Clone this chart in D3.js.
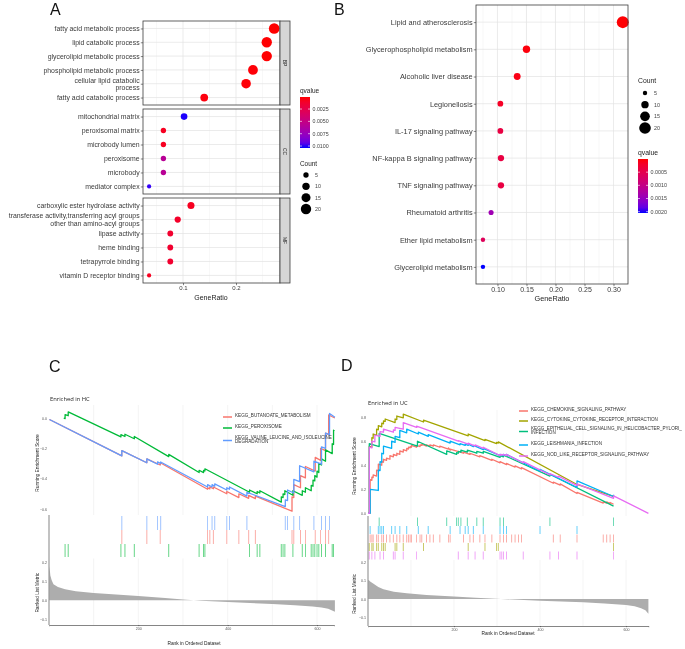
<!DOCTYPE html>
<html><head><meta charset="utf-8">
<script src="https://cdn.jsdelivr.net/npm/d3@7"></script>
<style>body{margin:0;background:#fff} svg{will-change:transform}</style>
</head><body>
<script>
// ---------------- Panel A data ----------------
const aBPTerms = ["fatty acid metabolic process","lipid catabolic process","glycerolipid metabolic process","phospholipid metabolic process","cellular lipid catabolic\nprocess","fatty acid catabolic process"];
const aBPRatio = [0.272,0.258,0.258,0.232,0.219,0.140];
const aBPCount = [21,20,20,18,17,11];
const aBPQ = [0.00005,0.0001,0.0001,0.0002,0.0002,0.0003];
const aCCTerms = ["mitochondrial matrix","peroxisomal matrix","microbody lumen","peroxisome","microbody","mediator complex"];
const aCCRatio = [0.102,0.063,0.063,0.063,0.063,0.036];
const aCCCount = [8,5,5,5,5,3];
const aCCQ = [0.0103,0.0008,0.0008,0.0058,0.0058,0.0101];
const aMFTerms = ["carboxylic ester hydrolase activity","transferase activity,transferring acyl groups\nother than amino-acyl groups","lipase activity","heme binding","tetrapyrrole binding","vitamin D receptor binding"];
const aMFRatio = [0.115,0.090,0.076,0.076,0.076,0.036];
const aMFCount = [9,7,6,6,6,3];
const aMFQ = [0.0008,0.0011,0.0013,0.0013,0.0013,0.0008];
const aStrips = ["BP","CC","MF"];
const aXTicks = [0.1,0.2];
const aQTicks = [0.0025,0.0050,0.0075,0.0100];
const sizeTicks = [5,10,15,20];

// ---------------- Panel B data ----------------
const bTerms = ["Lipid and atherosclerosis","Glycerophospholipid metabolism","Alcoholic liver disease","Legionellosis","IL-17 signaling pathway","NF-kappa B signaling pathway","TNF signaling pathway","Rheumatoid arthritis","Ether lipid metabolism","Glycerolipid metabolism"];
const bRatio = [0.316,0.150,0.134,0.105,0.105,0.106,0.106,0.089,0.075,0.075];
const bCount = [21,10,9,7,7,8,8,6,5,5];
const bQ = [0.00001,0.00004,0.00008,0.00018,0.0004,0.0004,0.0004,0.0014,0.0006,0.00205];
const bXTicks = [0.10,0.15,0.20,0.25,0.30];
const bQTicks = [0.0005,0.0010,0.0015,0.0020];

// ---------------- Panel C data ----------------
const cNames = ["KEGG_BUTANOATE_METABOLISM","KEGG_PEROXISOME","KEGG_VALINE_LEUCINE_AND_ISOLEUCINE\nDEGRADATION"];
const cColors = ["#F8766D","#00BA38","#619CFF"];
const cButanoateES = [[1,-0.01],[163,-0.25],[163,-0.215],[219,-0.295],[219,-0.27],[249,-0.31],[249,-0.295],[355,-0.47],[355,-0.46],[360,-0.468],[360,-0.455],[368,-0.467],[368,-0.455],[398,-0.5],[398,-0.485],[425,-0.525],[425,-0.5],[447,-0.53],[447,-0.51],[462,-0.532],[462,-0.515],[544,-0.615],[544,-0.52],[548,-0.525],[548,-0.44],[563,-0.46],[563,-0.38],[574,-0.395],[574,-0.32],[596,-0.35],[596,-0.26],[608,-0.28],[608,-0.2],[619,-0.215],[619,-0.1],[626,-0.11],[626,0.02],[640,0.0]];
const cPeroxisomeES = [[33,0.0],[36,-0.004],[36,0.022],[43,0.015],[43,0.04],[161,-0.125],[161,-0.11],[170,-0.122],[170,-0.107],[191,-0.137],[191,-0.122],[268,-0.255],[268,-0.24],[336,-0.36],[336,-0.345],[346,-0.36],[346,-0.345],[349,-0.35],[349,-0.335],[449,-0.49],[449,-0.475],[466,-0.5],[466,-0.485],[472,-0.495],[472,-0.48],[520,-0.555],[520,-0.52],[524,-0.525],[524,-0.5],[528,-0.505],[528,-0.48],[546,-0.51],[546,-0.48],[567,-0.51],[567,-0.48],[574,-0.49],[574,-0.46],[587,-0.48],[587,-0.445],[591,-0.45],[591,-0.41],[595,-0.415],[595,-0.38],[600,-0.39],[600,-0.35],[604,-0.36],[604,-0.3],[610,-0.31],[610,-0.27],[619,-0.285],[619,-0.21],[634,-0.235],[634,-0.17],[637,-0.175],[637,-0.08],[639,-0.085]];
const cValineES = [[1,-0.01],[163,-0.25],[163,-0.215],[219,-0.295],[219,-0.27],[243,-0.305],[243,-0.29],[250,-0.3],[250,-0.29],[355,-0.455],[355,-0.44],[365,-0.455],[365,-0.44],[371,-0.45],[371,-0.435],[398,-0.475],[398,-0.46],[404,-0.47],[404,-0.455],[443,-0.515],[443,-0.49],[529,-0.585],[529,-0.54],[534,-0.545],[534,-0.475],[548,-0.495],[548,-0.405],[561,-0.42],[561,-0.315],[593,-0.355],[593,-0.285],[610,-0.305],[610,-0.19],[619,-0.2],[619,-0.1],[628,-0.11],[628,0.03],[640,0.005]];
const cButanoateHits = [163,219,249,355,360,368,398,425,447,462,544,548,563,574,596,608,619,626];
const cPeroxisomeHits = [36,43,161,170,191,268,336,346,349,449,466,472,520,524,528,546,567,574,587,591,595,600,604,610,619,634,637];
const cValineHits = [163,219,243,250,355,365,371,398,404,443,529,534,548,561,593,610,619,628];
const cMetricRank = [1,3,6,10,20,36,60,100,150,200,260,300,340,400,450,500,550,590,610,625,640];
const cMetricValue = [0.18,0.13,0.105,0.085,0.07,0.058,0.048,0.038,0.03,0.022,0.012,0.004,-0.003,-0.009,-0.014,-0.019,-0.026,-0.033,-0.038,-0.045,-0.06];
const cESTicks = [0,-0.2,-0.4,-0.6];
const cRankTicks = [200,400,600];
const cMetricTicks = [0.2,0.1,0.0,-0.1];

// ---------------- Panel D data ----------------
const dNames = ["KEGG_CHEMOKINE_SIGNALING_PATHWAY","KEGG_CYTOKINE_CYTOKINE_RECEPTOR_INTERACTION","KEGG_EPITHELIAL_CELL_SIGNALING_IN_HELICOBACTER_PYLORI_\nINFECTION","KEGG_LEISHMANIA_INFECTION","KEGG_NOD_LIKE_RECEPTOR_SIGNALING_PATHWAY"];
const dColors = ["#F8766D","#A3A500","#00BF7D","#00B0F6","#E76BF3"];
const dChemokineES = [[0,0],[5,0],[5,0.28],[9,0.275],[9,0.3],[12,0.298],[12,0.32],[20,0.31],[20,0.36],[24,0.355],[24,0.41],[32,0.4],[32,0.43],[36,0.425],[36,0.45],[43,0.44],[43,0.46],[51,0.45],[51,0.48],[59,0.47],[59,0.49],[67,0.48],[67,0.5],[74,0.49],[74,0.52],[82,0.51],[82,0.53],[90,0.52],[90,0.54],[94,0.535],[94,0.55],[98,0.545],[98,0.555],[101,0.55],[101,0.565],[113,0.55],[113,0.565],[121,0.555],[121,0.57],[125,0.565],[125,0.575],[136,0.56],[136,0.57],[144,0.56],[144,0.57],[152,0.56],[152,0.57],[167,0.55],[167,0.56],[187,0.535],[187,0.545],[191,0.525],[191,0.535],[222,0.5],[222,0.51],[237,0.49],[237,0.5],[260,0.47],[260,0.48],[288,0.44],[288,0.45],[307,0.42],[307,0.43],[322,0.405],[322,0.415],[342,0.385],[342,0.395],[357,0.37],[357,0.38],[431,0.25],[431,0.26],[447,0.235],[447,0.245],[486,0.165],[486,0.175],[547,0.085],[547,0.095],[555,0.085],[555,0.095],[563,0.08],[563,0.09],[571,0.075]];
const dCytokineES = [[0,0],[3,0],[3,0.56],[9,0.55],[9,0.63],[12,0.625],[12,0.66],[20,0.65],[20,0.7],[24,0.695],[24,0.73],[32,0.72],[32,0.75],[36,0.745],[36,0.77],[40,0.765],[40,0.785],[63,0.755],[63,0.785],[67,0.78],[67,0.81],[82,0.795],[82,0.825],[129,0.76],[129,0.775],[233,0.645],[233,0.66],[272,0.605],[272,0.615],[299,0.58],[299,0.59],[303,0.585],[303,0.595],[486,0.24],[571,0.14]];
const dEpithelialES = [[0,0],[3,0],[3,0.58],[26,0.555],[26,0.665],[115,0.56],[115,0.6],[183,0.49],[183,0.52],[206,0.49],[206,0.505],[210,0.5],[210,0.515],[216,0.51],[216,0.525],[231,0.51],[231,0.525],[253,0.5],[253,0.515],[268,0.5],[268,0.515],[307,0.465],[307,0.48],[315,0.47],[315,0.485],[423,0.31],[423,0.325],[571,0.06]];
const dLeishmaniaES = [[0,0],[5,0],[5,0.2],[24,0.19],[24,0.36],[28,0.355],[28,0.43],[32,0.425],[32,0.5],[36,0.495],[36,0.56],[55,0.54],[55,0.6],[63,0.59],[63,0.64],[74,0.63],[74,0.69],[90,0.67],[90,0.7],[117,0.66],[117,0.675],[140,0.64],[140,0.655],[191,0.585],[191,0.6],[214,0.57],[214,0.58],[226,0.565],[226,0.575],[233,0.565],[233,0.575],[245,0.555],[245,0.565],[268,0.53],[268,0.54],[307,0.48],[307,0.49],[315,0.48],[315,0.49],[322,0.48],[322,0.49],[400,0.35],[400,0.365],[486,0.215],[486,0.27],[571,0.14],[571,0.155]];
const dNodES = [[0,0],[3,0],[3,0.55],[9,0.545],[9,0.6],[16,0.595],[16,0.65],[28,0.64],[28,0.68],[36,0.675],[36,0.7],[59,0.675],[59,0.695],[63,0.69],[63,0.715],[82,0.7],[82,0.755],[113,0.715],[113,0.725],[210,0.6],[210,0.605],[233,0.575],[233,0.585],[249,0.56],[249,0.57],[268,0.54],[268,0.55],[307,0.48],[307,0.49],[311,0.485],[311,0.49],[315,0.485],[315,0.49],[322,0.48],[322,0.49],[361,0.42],[361,0.43],[423,0.32],[423,0.33],[443,0.3],[443,0.31],[486,0.23],[486,0.245],[571,0.125],[571,0.145],[652,0.0]];
const dChemokineHits = [5,9,12,20,24,32,36,43,51,59,67,74,82,90,94,98,101,113,121,125,136,144,152,167,187,191,222,237,245,260,272,288,307,315,322,334,342,350,357,431,447,486,547,555,563,571];
const dCytokineHits = [3,9,12,20,24,32,36,40,63,67,82,129,233,272,299,303,571];
const dEpithelialHits = [26,115,183,206,210,216,231,253,268,307,315,423,571];
const dLeishmaniaHits = [5,24,28,32,36,55,63,74,90,117,140,191,214,226,233,245,268,307,315,322,400,486];
const dNodHits = [3,9,16,28,36,59,63,82,113,210,233,249,268,307,311,315,322,361,423,443,486,571];
const dMetricRank = [1,5,12,24,36,60,90,136,200,250,298,350,400,450,500,550,600,620,635,645,652];
const dMetricValue = [0.105,0.095,0.085,0.065,0.053,0.04,0.031,0.022,0.013,0.007,0.001,-0.004,-0.009,-0.013,-0.018,-0.024,-0.033,-0.04,-0.05,-0.062,-0.08];
const dESTicks = [0.0,0.2,0.4,0.6,0.8];
const dRankTicks = [200,400,600];
const dMetricTicks = [0.2,0.1,0.0,-0.1];

// ================= drawing =================
const F = "'Liberation Sans', Arial, sans-serif";
const svg = d3.select("body").append("svg").attr("width",685).attr("height",649)
  .style("font-family",F);
svg.append("rect").attr("width",685).attr("height",649).attr("fill","#fff");
const defs = svg.append("defs");

[["A",50,15],["B",334,15],["C",49,372],["D",341,371]].forEach(([t,x,y])=>
  svg.append("text").attr("x",x).attr("y",y).attr("font-size",16).attr("fill","#111").text(t));

function styleAxis(ax, size, fill){
  ax.select(".domain").remove();
  ax.selectAll("line").attr("stroke","#333").attr("stroke-width",0.6);
  ax.selectAll("text").attr("font-size",size).attr("fill",fill).attr("font-family",F);
}
function multiline(ax){
  ax.selectAll(".tick text").each(function(d){
    const parts = String(d).split("\n");
    if(parts.length < 2) return;
    const t = d3.select(this); const x = t.attr("x");
    t.text(null).attr("dy",null);
    parts.forEach((p,i)=>t.append("tspan").attr("x",x).attr("dy", i===0 ? "-0.25em" : "1.15em").text(p));
  });
}

function dotPanel(o){
  const g = svg.append("g");
  const y = d3.scalePoint().domain(o.terms).range([o.y0,o.y1]).padding(o.pad);
  g.append("rect").attr("x",o.x0).attr("y",o.y0).attr("width",o.x1-o.x0).attr("height",o.y1-o.y0).attr("fill","#fff");
  g.selectAll(null).data(o.minors).join("line").attr("x1",d=>o.x(d)).attr("x2",d=>o.x(d))
    .attr("y1",o.y0).attr("y2",o.y1).attr("stroke","#f1f1f1").attr("stroke-width",0.5);
  g.selectAll(null).data(o.majors).join("line").attr("x1",d=>o.x(d)).attr("x2",d=>o.x(d))
    .attr("y1",o.y0).attr("y2",o.y1).attr("stroke","#e3e3e3").attr("stroke-width",0.7);
  g.selectAll(null).data(o.terms).join("line").attr("x1",o.x0).attr("x2",o.x1)
    .attr("y1",d=>y(d)).attr("y2",d=>y(d)).attr("stroke","#e3e3e3").attr("stroke-width",0.7);
  const pts = o.terms.map((t,i)=>({t, v:o.ratio[i], c:o.count[i], q:o.q[i]}));
  g.selectAll("circle").data(pts).join("circle").attr("cx",d=>o.x(d.v)).attr("cy",d=>y(d.t))
    .attr("r",d=>o.r(d.c)).attr("fill",d=>o.color(d.q));
  g.append("rect").attr("x",o.x0).attr("y",o.y0).attr("width",o.x1-o.x0).attr("height",o.y1-o.y0)
    .attr("fill","none").attr("stroke","#3c3c3c").attr("stroke-width",0.8);
  const ax = g.append("g").attr("transform",`translate(${o.x0},0)`)
    .call(d3.axisLeft(y).tickSize(2.2).tickPadding(1.2));
  styleAxis(ax, o.fs, "#3a3a3a");
  multiline(ax);
  return y;
}

function colorbar(o){
  const id = "grad"+o.id;
  const lg = defs.append("linearGradient").attr("id",id).attr("x1",0).attr("x2",0).attr("y1",0).attr("y2",1);
  d3.range(0,1.0001,0.1).forEach(t=>{
    const v = o.domain[0] + t*(o.domain[1]-o.domain[0]);
    lg.append("stop").attr("offset",t).attr("stop-color",o.color(v));
  });
  const ly = d3.scaleLinear().domain(o.domain).range([o.y0,o.y1]);
  svg.append("text").attr("x",o.x).attr("y",o.y0-4).attr("font-size",o.tfs).attr("fill","#222").text("qvalue");
  svg.append("rect").attr("x",o.x).attr("y",o.y0).attr("width",o.w).attr("height",o.y1-o.y0).attr("fill",`url(#${id})`);
  o.ticks.forEach(t=>{
    svg.append("line").attr("x1",o.x).attr("x2",o.x+2).attr("y1",ly(t)).attr("y2",ly(t)).attr("stroke","#fff").attr("stroke-width",0.6);
    svg.append("line").attr("x1",o.x+o.w-2).attr("x2",o.x+o.w).attr("y1",ly(t)).attr("y2",ly(t)).attr("stroke","#fff").attr("stroke-width",0.6);
    svg.append("text").attr("x",o.x+o.w+2.5).attr("y",ly(t)).attr("dy","0.35em").attr("font-size",o.lfs).attr("fill","#444").text(d3.format(".4f")(t));
  });
}
function sizeLegend(o){
  svg.append("text").attr("x",o.x).attr("y",o.ty).attr("font-size",o.tfs).attr("fill","#222").text("Count");
  const ly = d3.scalePoint().domain(sizeTicks).range([o.y0,o.y1]);
  sizeTicks.forEach(s=>{
    svg.append("circle").attr("cx",o.cx).attr("cy",ly(s)).attr("r",o.r(s)).attr("fill","#000");
    svg.append("text").attr("x",o.lx).attr("y",ly(s)).attr("dy","0.35em").attr("font-size",o.lfs).attr("fill","#444").text(s);
  });
}

// ---------- Panel A ----------
const xA = d3.scaleLinear().domain([0.0245,0.283]).range([143,280]);
const rA = d3.scaleSqrt().domain([3,21]).range([2.1,5.3]);
const cA = d3.scaleLinear().domain([0.00006,0.0104]).range(["red","blue"]).interpolate(d3.interpolateLab);
const aFacets = [
  {terms:aBPTerms, ratio:aBPRatio, count:aBPCount, q:aBPQ, y0:21, y1:105},
  {terms:aCCTerms, ratio:aCCRatio, count:aCCCount, q:aCCQ, y0:109, y1:194},
  {terms:aMFTerms, ratio:aMFRatio, count:aMFCount, q:aMFQ, y0:198, y1:283}
];
aFacets.forEach((f,i)=>{
  dotPanel(Object.assign({x:xA, r:rA, color:cA, x0:143, x1:280, pad:0.54, fs:6.9,
    majors:aXTicks, minors:[0.05,0.15,0.25]}, f));
  svg.append("rect").attr("x",280).attr("y",f.y0).attr("width",10).attr("height",f.y1-f.y0)
    .attr("fill","#d6d6d6").attr("stroke","#3c3c3c").attr("stroke-width",0.8);
  svg.append("text").attr("transform",`translate(283.3,${(f.y0+f.y1)/2}) rotate(90)`)
    .attr("text-anchor","middle").attr("font-size",5).attr("fill","#222").text(aStrips[i]);
});
{
  const ax = svg.append("g").attr("transform","translate(0,283)")
    .call(d3.axisBottom(xA).tickValues(aXTicks).tickSize(2.2).tickPadding(1).tickFormat(d3.format(".1f")));
  styleAxis(ax, 6, "#3a3a3a");
  svg.append("text").attr("x",211).attr("y",299.5).attr("text-anchor","middle").attr("font-size",7).attr("fill","#222").text("GeneRatio");
}
colorbar({id:"A", x:300, y0:97, y1:148, w:10, domain:[0.00006,0.0104], color:cA, ticks:aQTicks, tfs:6.5, lfs:5.3});
sizeLegend({x:300, ty:166, cx:306, lx:315, y0:175, y1:209, r:rA, tfs:6.4, lfs:5.3});

// ---------- Panel B ----------
const xB = d3.scaleLinear().domain([0.063,0.325]).range([476,628]);
const rB = d3.scaleSqrt().domain([5,21]).range([2.2,6.0]);
const cB = d3.scaleLinear().domain([0.0,0.00205]).range(["red","blue"]).interpolate(d3.interpolateLab);
dotPanel({terms:bTerms, ratio:bRatio, count:bCount, q:bQ, x:xB, r:rB, color:cB, x0:476, x1:628, y0:5, y1:284,
  pad:0.63, fs:7.4, majors:bXTicks, minors:[0.075,0.125,0.175,0.225,0.275]});
{
  const ax = svg.append("g").attr("transform","translate(0,284)")
    .call(d3.axisBottom(xB).tickValues(bXTicks).tickSize(2.2).tickPadding(1).tickFormat(d3.format(".2f")));
  styleAxis(ax, 7, "#3a3a3a");
  svg.append("text").attr("x",552).attr("y",301).attr("text-anchor","middle").attr("font-size",7.3).attr("fill","#222").text("GeneRatio");
}
sizeLegend({x:638, ty:83, cx:645, lx:654, y0:93, y1:128, r:rB, tfs:6.8, lfs:5.4});
colorbar({id:"B", x:638, y0:159, y1:213, w:10, domain:[0.0,0.00205], color:cB, ticks:bQTicks, tfs:6.8, lfs:5.4});

// ---------- GSEA panels ----------
function gsea(o){
  const g = svg.append("g");
  g.selectAll(null).data(o.grid).join("line").attr("x1",d=>o.x(d)).attr("x2",d=>o.x(d))
    .attr("y1",o.esTop).attr("y2",o.esBottom).attr("stroke","#ececec").attr("stroke-width",0.6);
  g.selectAll(null).data(o.grid).join("line").attr("x1",d=>o.x(d)).attr("x2",d=>o.x(d))
    .attr("y1",o.mTop).attr("y2",o.mBottom).attr("stroke","#ececec").attr("stroke-width",0.6);
  const line = d3.line().x(d=>o.x(d[0])).y(d=>o.yES(d[1]));
  o.sets.forEach(s=>{
    g.append("path").attr("d",line(s.es)).attr("fill","none").attr("stroke",s.color)
      .attr("stroke-width",1.3).attr("stroke-linejoin","round");
  });
  o.sets.forEach(s=>{
    g.selectAll(null).data(s.hits).join("line").attr("x1",d=>o.x(d)).attr("x2",d=>o.x(d))
      .attr("y1",s.row[0]).attr("y2",s.row[1]).attr("stroke",s.color).attr("stroke-width",0.8).attr("opacity",0.75);
  });
  const mdata = o.mRank.map((r,i)=>[r,o.mVal[i]]);
  g.append("path").attr("d", d3.area().x(d=>o.x(d[0])).y0(o.yM(0)).y1(d=>o.yM(d[1]))(mdata))
    .attr("fill","#adadad");
  const ay = g.append("g").attr("transform",`translate(${o.x(0)},0)`)
    .call(d3.axisLeft(o.yES).tickValues(o.esTicks).tickSize(0).tickPadding(2).tickFormat(d3.format(".1f")));
  styleAxis(ay, 3.6, "#555");
  const am = g.append("g").attr("transform",`translate(${o.x(0)},0)`)
    .call(d3.axisLeft(o.yM).tickValues(o.mTicks).tickSize(0).tickPadding(2).tickFormat(d3.format(".1f")));
  styleAxis(am, 3.6, "#555");
  g.append("line").attr("x1",o.x(0)).attr("x2",o.x(0)).attr("y1",o.axTop).attr("y2",o.mBottom)
    .attr("stroke","#333").attr("stroke-width",0.6);
  const ab = g.append("g").attr("transform",`translate(0,${o.mBottom})`)
    .call(d3.axisBottom(o.x).tickValues(o.rankTicks).tickSize(1.2).tickPadding(1));
  ab.select(".domain").attr("stroke","#333").attr("stroke-width",0.6);
  ab.selectAll("line").attr("stroke","#333").attr("stroke-width",0.5);
  ab.selectAll("text").attr("font-size",3.6).attr("fill","#555").attr("font-family",F);
  g.append("text").attr("x",o.titleX).attr("y",o.titleY).attr("font-size",5.8).attr("fill","#222")
    .attr("font-family","'Open Sans', sans-serif").text(o.title);
  g.append("text").attr("transform",`translate(${o.ylabX},${(o.esTop+o.esBottom)/2+3}) rotate(-90)`)
    .attr("text-anchor","middle").attr("font-size",4.8).attr("fill","#222").text("Running Enrichment Score");
  g.append("text").attr("transform",`translate(${o.ylabX},${(o.mTop+o.mBottom)/2+1}) rotate(-90)`)
    .attr("text-anchor","middle").attr("font-size",4.8).attr("fill","#222").text("Ranked List Metric");
  g.append("text").attr("x",o.xlabX).attr("y",o.xlabY).attr("text-anchor","middle")
    .attr("font-size",4.8).attr("fill","#222").text("Rank in Ordered Dataset");
  const clipId = "clip"+o.id;
  defs.append("clipPath").attr("id",clipId).append("rect").attr("x",o.legX-2).attr("y",o.esTop-5)
    .attr("width",o.clipRight-o.legX+2).attr("height",80);
  const lg = g.append("g").attr("clip-path",`url(#${clipId})`);
  o.sets.forEach((s,i)=>{
    const yy = o.legY[i];
    const parts = s.name.split("\n");
    const ly = parts.length>1 ? yy + 2 : yy;
    lg.append("line").attr("x1",o.legX).attr("x2",o.legX+9).attr("y1",ly).attr("y2",ly)
      .attr("stroke",s.color).attr("stroke-width",1.5);
    const t = lg.append("text").attr("x",o.legX+12).attr("y",yy).attr("dy","0.35em")
      .attr("font-size",4.6).attr("fill","#333");
    parts.forEach((p,k)=>t.append("tspan").attr("x",o.legX+12).attr("dy",k===0?0:"0.9em").text(p));
  });
}

const xC = d3.scaleLinear().domain([0,638]).range([49,334]);
gsea({id:"C", x:xC,
  yES: d3.scaleLinear().domain([-0.64,0.0858]).range([515,405]),
  yM: d3.scaleLinear().domain([-0.13,0.22]).range([625,558.5]),
  esTop:405, esBottom:515, mTop:558.5, mBottom:625, axTop:515,
  grid:[100,200,300,400,500,600],
  sets:[
    {name:cNames[0], color:cColors[0], es:cButanoateES, hits:cButanoateHits, row:[530,544]},
    {name:cNames[1], color:cColors[1], es:cPeroxisomeES, hits:cPeroxisomeHits, row:[544,557]},
    {name:cNames[2], color:cColors[2], es:cValineES, hits:cValineHits, row:[516,530]}
  ],
  mRank:cMetricRank, mVal:cMetricValue, esTicks:cESTicks, mTicks:cMetricTicks, rankTicks:cRankTicks,
  title:"Enriched in HC", titleX:50, titleY:401,
  ylabX:39, xlabX:194, xlabY:645,
  legX:223, legY:[417,428,438.5], clipRight:335
});

const xD = d3.scaleLinear().domain([0,652]).range([368,648.4]);
gsea({id:"D", x:xD,
  yES: d3.scaleLinear().domain([-0.02,0.86]).range([515.7,410]),
  yM: d3.scaleLinear().domain([-0.1475,0.213]).range([626,560]),
  esTop:410, esBottom:516, mTop:560, mBottom:626, axTop:516,
  grid:[100,200,300,400,500,600],
  sets:[
    {name:dNames[0], color:dColors[0], es:dChemokineES, hits:dChemokineHits, row:[534.5,542.5]},
    {name:dNames[1], color:dColors[1], es:dCytokineES, hits:dCytokineHits, row:[543,551]},
    {name:dNames[2], color:dColors[2], es:dEpithelialES, hits:dEpithelialHits, row:[517.5,526]},
    {name:dNames[3], color:dColors[3], es:dLeishmaniaES, hits:dLeishmaniaHits, row:[526,534]},
    {name:dNames[4], color:dColors[4], es:dNodES, hits:dNodHits, row:[551.5,559.5]}
  ],
  mRank:dMetricRank, mVal:dMetricValue, esTicks:dESTicks, mTicks:dMetricTicks, rankTicks:dRankTicks,
  title:"Enriched in UC", titleX:368, titleY:405,
  ylabX:356, xlabX:508, xlabY:634.5,
  legX:519, legY:[411,421,429.5,445,456], clipRight:685
});
</script>
</body></html>
